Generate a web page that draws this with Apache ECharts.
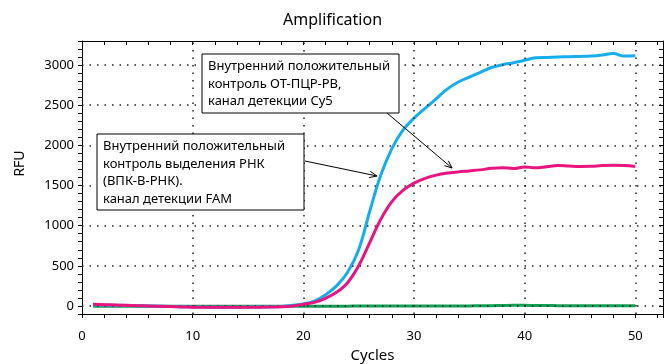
<!DOCTYPE html>
<html>
<head>
<meta charset="utf-8">
<script src="https://cdn.jsdelivr.net/npm/echarts@6/dist/echarts.min.js"></script>
<style>
  html, body { margin: 0; padding: 0; background: #fff; }
  #chart { width: 665px; height: 364px; }
</style>
</head>
<body>
<div id="chart"></div>
<script>
// cycles 1..50
var cycles = [];
for (var i = 1; i <= 50; i++) cycles.push(i);

// Cy5 (blue)
var cy5 = [15, 12, 9, 6, 3, 0, -3, -6, -9, -12, -14, -15, -15, -15, -14, -13, -11, -5, 8, 25,
  60, 140, 250, 420, 700, 1180, 1630, 1960, 2190, 2340, 2460, 2580, 2700, 2790, 2850, 2910, 2970, 3005, 3030, 3060,
  3090, 3095, 3100, 3105, 3108, 3112, 3125, 3145, 3112, 3116];
// FAM (pink)
var fam = [20, 16, 12, 8, 4, 0, -4, -8, -12, -15, -16, -17, -17, -16, -15, -15, -14, -10, 0, 20,
  45, 95, 170, 290, 500, 790, 1080, 1300, 1440, 1530, 1590, 1630, 1655, 1670, 1682, 1695, 1715, 1722, 1712, 1732,
  1720, 1735, 1748, 1742, 1738, 1740, 1748, 1752, 1748, 1736];
// green channel
var ch3 = [-4, -4, -4, -4, -4, -4, -4, -4, -4, -4, -4, -4, -4, -4, -4, -4, -4, -3, -3, -3,
  -3, -2, -2, -2, -1, -1, 0, 0, 0, 0, 0, 0, 1, 1, 1, 2, 3, 6, 8, 8,
  6, 5, 4, 4, 3, 3, 3, 3, 3, 3];

var gridX = [10, 20, 30, 40, 50];
var gridY = [0, 500, 1000, 1500, 2000, 2500, 3000];

var xMin = 0, xMax = 52.5, yMin = -100, yMax = 3300;

var font = "'Noto Sans', sans-serif";
var dotted = { color: '#222', width: 1.5, type: [1.5, 6] };

function pairs(arr) {
  return arr.map(function (v, i) { return [cycles[i], v]; });
}

// выноски
var notes = [
  { x: 202, y: 54, w: 197, h: 59,
    text: 'Внутренний положительный\nконтроль ОТ-ПЦР-РВ,\nканал детекции Cy5',
    from: [387, 113], to: [452, 168] },
  { x: 97, y: 134, w: 207, h: 76,
    text: 'Внутренний положительный\nконтроль выделения РНК\n(ВПК-В-РНК).\nканал детекции FAM',
    from: [305, 161], to: [377, 176] }
];

function arrowHead(from, to, len, ang) {
  var dx = from[0] - to[0], dy = from[1] - to[1];
  var d = Math.sqrt(dx * dx + dy * dy);
  dx /= d; dy /= d;
  var c = Math.cos(ang), s = Math.sin(ang);
  var a = [to[0] + len * (dx * c - dy * s), to[1] + len * (dx * s + dy * c)];
  var b = [to[0] + len * (dx * c + dy * s), to[1] + len * (-dx * s + dy * c)];
  return [a, to, b];
}

var graphics = [];
notes.forEach(function (n) {
  graphics.push({
    type: 'line', z: 100,
    shape: { x1: n.from[0], y1: n.from[1], x2: n.to[0], y2: n.to[1] },
    style: { stroke: '#000', lineWidth: 1 }
  });
  graphics.push({
    type: 'polyline', z: 100,
    shape: { points: arrowHead(n.from, n.to, 8, 0.4) },
    style: { stroke: '#000', lineWidth: 1, fill: null }
  });
  graphics.push({
    type: 'rect', z: 100,
    shape: { x: n.x, y: n.y, width: n.w, height: n.h },
    style: { fill: '#fff', stroke: '#000', lineWidth: 1 }
  });
  graphics.push({
    type: 'text', z: 101, x: n.x + 6, y: n.y + 4,
    style: { text: n.text, font: '13px ' + font, fill: '#000', lineHeight: 17.5, verticalAlign: 'top' }
  });
});

var axisCommon = {
  axisLine: { show: true, onZero: false, lineStyle: { color: '#000', width: 1 } },
  splitLine: { show: false }
};

var chart = echarts.init(document.getElementById('chart'));
var option = {
  animation: false,
  textStyle: { fontFamily: font },
  title: {
    text: 'Amplification',
    left: 'center',
    top: 7,
    textStyle: { fontSize: 16, fontWeight: 'normal', color: '#000', fontFamily: font }
  },
  grid: { left: 82, right: 2, top: 41, bottom: 50, containLabel: false, outerBoundsMode: 'none' },
  xAxis: [
    Object.assign({
      type: 'value', min: xMin, max: xMax, interval: 2, position: 'bottom',
      name: 'Cycles', nameLocation: 'middle', nameGap: 32,
      nameTextStyle: { fontSize: 15, color: '#000', fontFamily: font },
      axisTick: { show: true, length: 4, lineStyle: { color: '#000' } },
      axisLabel: {
        color: '#000', fontSize: 13, margin: 16, fontFamily: font,
        formatter: function (v) { return v % 10 === 0 ? v : ''; }
      }
    }, axisCommon),
    Object.assign({
      type: 'value', min: xMin, max: xMax, interval: 2, position: 'top',
      axisTick: { show: true, inside: true, length: 4, lineStyle: { color: '#000' } },
      axisLabel: { show: false }
    }, axisCommon)
  ],
  yAxis: [
    Object.assign({
      type: 'value', min: yMin, max: yMax, interval: 100, position: 'left',
      name: 'RFU', nameLocation: 'middle', nameGap: 55,
      nameTextStyle: { fontSize: 14, color: '#000', fontFamily: font, padding: [0, 0, 0, 28] },
      axisTick: { show: true, length: 4, lineStyle: { color: '#000' } },
      axisLabel: {
        color: '#000', fontSize: 13, margin: 8, fontFamily: font,
        formatter: function (v) { return v % 500 === 0 ? v : ''; }
      }
    }, axisCommon),
    Object.assign({
      type: 'value', min: yMin, max: yMax, interval: 100, position: 'right',
      axisTick: { show: true, inside: true, length: 4, lineStyle: { color: '#000' } },
      axisLabel: { show: false }
    }, axisCommon)
  ],
  series: [
    {
      name: 'grid', type: 'line', data: [], z: 1, silent: true,
      markLine: {
        silent: true, symbol: 'none', animation: false,
        label: { show: false },
        lineStyle: dotted,
        data: gridX.map(function (v) { return { xAxis: v }; })
          .concat(gridY.map(function (v) { return { yAxis: v }; }))
      }
    },
    {
      name: 'ch3', type: 'line', data: pairs(ch3), smooth: 0.4, showSymbol: false, z: 3,
      lineStyle: { color: '#10a055', width: 3 }, itemStyle: { color: '#10a055' }
    },
    {
      name: 'Cy5', type: 'line', data: pairs(cy5), smooth: 0.4, showSymbol: false, z: 4,
      lineStyle: { color: '#15aeea', width: 3 }, itemStyle: { color: '#15aeea' }
    },
    {
      name: 'FAM', type: 'line', data: pairs(fam), smooth: 0.4, showSymbol: false, z: 5,
      lineStyle: { color: '#e8157f', width: 3 }, itemStyle: { color: '#e8157f' }
    }
  ],
  graphic: graphics
};
chart.setOption(option);
</script>
</body>
</html>
